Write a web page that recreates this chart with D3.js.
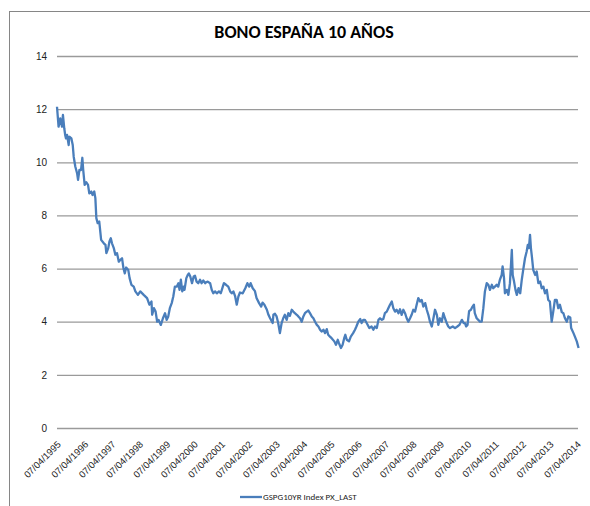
<!DOCTYPE html>
<html>
<head>
<meta charset="utf-8">
<script src="https://cdn.jsdelivr.net/npm/d3@7"></script>
<style>
  body { margin: 0; background: #fff; }
  svg { display: block; font-family: Carlito, Calibri, Lato, sans-serif; }
</style>
</head>
<body>
<svg></svg>
<script>
// Bono España 10 años (GSPG10YR)

let title = "BONO ESPAÑA 10 AÑOS";
let seriesName = "GSPG10YR Index PX_LAST";

let yTicks = [0, 2, 4, 6, 8, 10, 12, 14];
let xTickLabels = ["07/04/1995","07/04/1996","07/04/1997","07/04/1998","07/04/1999",
  "07/04/2000","07/04/2001","07/04/2002","07/04/2003","07/04/2004","07/04/2005",
  "07/04/2006","07/04/2007","07/04/2008","07/04/2009","07/04/2010","07/04/2011",
  "07/04/2012","07/04/2013","07/04/2014"];

let dates = [
  "1995-04-07","1995-04-28","1995-05-20","1995-06-13","1995-06-25","1995-07-13","1995-07-25","1995-08-05",
  "1995-08-19","1995-09-10","1995-09-19","1995-10-16","1995-11-03","1995-11-16","1995-12-07","1995-12-31",
  "1996-01-13","1996-01-31","1996-02-22","1996-03-10","1996-03-22","1996-04-10","1996-05-01","1996-05-25",
  "1996-06-11","1996-07-07","1996-07-25","1996-08-16","1996-08-31","1996-09-13","1996-10-01","1996-10-22",
  "1996-11-16","1996-12-22","1997-01-13","1997-01-25","1997-02-19","1997-03-07","1997-03-25","1997-04-10",
  "1997-05-04","1997-05-25","1997-06-16","1997-07-10","1997-07-31","1997-08-22","1997-09-10","1997-09-28",
  "1997-10-16","1997-11-13","1997-12-01","1997-12-25","1998-01-25","1998-02-16","1998-03-22","1998-04-22",
  "1998-06-07","1998-07-22","1998-08-22","1998-09-19","1998-09-28","1998-10-22","1998-11-13","1998-12-04",
  "1998-12-22","1999-01-22","1999-02-19","1999-03-19","1999-04-10","1999-05-01","1999-05-22","1999-06-16",
  "1999-07-07","1999-07-28","1999-08-22","1999-09-13","1999-09-28","1999-10-16","1999-11-04","1999-11-22",
  "1999-12-04","1999-12-28","2000-01-16","2000-01-31","2000-02-19","2000-03-13","2000-04-04","2000-04-22",
  "2000-05-13","2000-06-04","2000-06-28","2000-07-19","2000-08-10","2000-09-04","2000-10-04","2000-11-10",
  "2000-12-01","2000-12-22","2001-01-16","2001-02-07","2001-03-07","2001-04-01","2001-04-28","2001-05-13",
  "2001-06-10","2001-07-10","2001-08-04","2001-08-25","2001-09-16","2001-10-10","2001-10-31","2001-11-22",
  "2001-12-13","2002-01-19","2002-02-22","2002-03-22","2002-04-16","2002-05-04","2002-06-01","2002-07-01",
  "2002-07-22","2002-08-25","2002-09-22","2002-10-10","2002-11-04","2002-12-07","2002-12-28","2003-01-19",
  "2003-02-22","2003-03-04","2003-03-25","2003-04-16","2003-05-07","2003-05-30","2003-06-22","2003-07-13",
  "2003-08-04","2003-08-28","2003-09-19","2003-10-10","2003-11-04","2003-11-25","2003-12-16","2004-01-10",
  "2004-01-31","2004-02-22","2004-03-16","2004-04-07","2004-04-28","2004-05-22","2004-06-13","2004-07-04",
  "2004-07-28","2004-08-19","2004-09-10","2004-10-04","2004-10-25","2004-11-16","2004-12-07","2004-12-31",
  "2005-01-22","2005-02-13","2005-03-04","2005-03-28","2005-04-19","2005-05-25","2005-06-16","2005-07-10",
  "2005-07-25","2005-08-22","2005-09-13","2005-10-04","2005-10-19","2005-11-07","2005-12-07","2005-12-31",
  "2006-01-31","2006-02-25","2006-03-16","2006-04-10","2006-05-07","2006-05-25","2006-06-16","2006-07-07",
  "2006-07-31","2006-09-04","2006-10-04","2006-10-28","2006-11-19","2006-12-13","2007-01-04","2007-01-25",
  "2007-02-19","2007-03-10","2007-03-31","2007-04-25","2007-05-16","2007-06-07","2007-07-01","2007-07-22",
  "2007-08-13","2007-09-04","2007-09-28","2007-10-19","2007-11-10","2007-12-02","2007-12-25","2008-01-16",
  "2008-02-07","2008-03-01","2008-03-22","2008-04-13","2008-05-07","2008-05-28","2008-06-19","2008-07-13",
  "2008-08-04","2008-08-25","2008-09-19","2008-10-10","2008-10-31","2008-11-22","2008-12-16","2009-01-07",
  "2009-01-28","2009-02-22","2009-03-13","2009-04-04","2009-04-28","2009-05-19","2009-06-10","2009-07-03",
  "2009-07-24","2009-08-16","2009-09-22","2009-10-22","2009-11-22","2009-12-19","2010-01-22","2010-02-13",
  "2010-03-04","2010-03-19","2010-04-07","2010-04-28","2010-05-22","2010-06-13","2010-07-01","2010-07-13",
  "2010-08-07","2010-08-28","2010-09-19","2010-10-13","2010-11-04","2010-11-25","2010-12-19","2011-01-10",
  "2011-01-31","2011-02-25","2011-03-16","2011-04-07","2011-05-01","2011-05-22","2011-06-13","2011-07-07",
  "2011-07-19","2011-08-07","2011-08-19","2011-09-13","2011-10-04","2011-10-25","2011-11-19","2011-12-01",
  "2011-12-19","2012-01-07","2012-01-25","2012-02-16","2012-03-10","2012-03-31","2012-04-19","2012-05-13",
  "2012-06-04","2012-06-19","2012-07-04","2012-07-19","2012-07-31","2012-08-13","2012-08-31","2012-09-25",
  "2012-10-16","2012-11-07","2012-12-01","2012-12-22","2013-01-13","2013-02-04","2013-02-28","2013-03-19",
  "2013-04-10","2013-05-04","2013-05-25","2013-06-16","2013-07-10","2013-07-31","2013-08-22","2013-09-16",
  "2013-10-07","2013-10-28","2013-11-22","2013-12-13","2014-01-07","2014-01-19","2014-02-19","2014-03-10",
  "2014-04-04","2014-04-28"
];

let yields = [
  12.09,11.34,11.65,11.34,11.78,11.28,11.03,10.90,
  11.03,10.65,10.96,10.90,10.65,10.21,9.84,9.59,
  9.34,9.71,9.71,10.17,9.71,9.15,9.25,9.15,
  8.83,8.90,8.77,8.90,8.65,7.90,7.71,7.77,
  7.08,6.95,6.89,6.58,6.77,7.02,7.14,6.95,
  6.77,6.52,6.58,6.26,6.33,6.39,6.01,5.82,
  6.04,5.95,5.64,5.39,5.32,5.14,5.01,5.14,
  5.01,4.89,4.64,4.76,4.26,4.51,4.38,4.00,
  4.07,3.88,4.13,4.32,4.07,4.20,4.51,4.70,
  4.95,5.32,5.32,5.45,5.20,5.58,5.14,5.32,
  5.20,5.64,5.76,5.82,5.70,5.45,5.70,5.73,
  5.51,5.45,5.58,5.45,5.55,5.45,5.51,5.45,
  5.20,5.07,5.14,5.07,5.14,5.07,5.32,5.45,
  5.39,5.32,5.14,5.07,5.14,4.95,4.64,4.95,
  5.10,5.07,5.26,5.45,5.32,5.45,5.26,5.15,
  4.89,4.70,4.57,4.72,4.64,4.45,4.26,4.13,
  3.95,4.26,4.30,4.20,3.95,3.57,3.95,4.13,
  4.26,4.07,4.32,4.22,4.45,4.38,4.32,4.26,
  4.20,4.13,4.00,4.20,4.32,4.38,4.42,4.32,
  4.20,4.13,4.00,3.88,3.82,3.70,3.63,3.70,
  3.57,3.72,3.51,3.44,3.38,3.26,3.13,3.32,
  3.20,3.01,3.13,3.38,3.51,3.32,3.26,3.44,
  3.57,3.70,3.82,4.00,4.10,3.95,4.07,4.07,
  3.95,3.76,3.82,3.70,3.82,3.76,4.07,4.13,
  4.07,4.10,4.32,4.38,4.51,4.64,4.76,4.51,
  4.38,4.45,4.32,4.47,4.26,4.45,4.32,4.13,
  4.00,4.13,4.26,4.45,4.38,4.64,4.89,4.76,
  4.82,4.57,4.70,4.45,4.26,4.00,3.82,4.13,
  4.45,4.26,3.88,4.13,4.00,4.32,4.13,3.95,
  3.82,3.76,3.82,3.76,3.82,3.88,4.07,3.95,
  3.95,3.82,3.88,4.40,4.45,4.57,4.64,4.32,
  4.13,4.07,4.00,4.00,4.51,5.14,5.45,5.39,
  5.20,5.39,5.26,5.32,5.39,5.32,5.58,5.76,
  6.08,5.64,5.07,5.20,5.01,5.45,6.70,5.76,
  5.51,5.20,5.01,5.26,5.07,5.58,5.95,6.39,
  6.64,6.89,6.77,7.27,6.77,6.45,5.95,5.76,
  5.89,5.45,5.51,5.26,5.32,5.07,5.20,4.82,
  4.76,4.00,4.38,4.82,4.82,4.51,4.64,4.36,
  4.32,4.13,4.00,4.20,4.16,3.76,3.57,3.44,
  3.26,3.01
];

let width = 590;
let height = 506;

let plotLeft = 57;
let plotRight = 578;
let plotTop = 56;
let plotBottom = 428;

let parseDate = d3.timeParse("%Y-%m-%d");
let parseTick = d3.timeParse("%d/%m/%Y");

let svg = d3.select("svg")
            .attr("width", width)
            .attr("height", height);

// chart frame (cut by the window on the right and bottom)
svg.append("rect")
   .attr("x", 9.5)
   .attr("y", 11.5)
   .attr("width", width + 20)
   .attr("height", height + 20)
   .attr("fill", "#fff")
   .attr("stroke", "#868686")
   .attr("stroke-width", 1);

let xScale = d3.scaleTime()
               .domain([parseTick(xTickLabels[0]), parseTick(xTickLabels[xTickLabels.length - 1])])
               .range([plotLeft, 577]);

let yScale = d3.scaleLinear()
               .domain([0, 14])
               .range([plotBottom, plotTop]);

// y axis: gridlines + labels
let yAxis = d3.axisLeft(yScale)
              .tickValues(yTicks)
              .tickSize(-(plotRight - plotLeft))
              .tickPadding(10)
              .tickFormat(d3.format("d"));

let yG = svg.append("g")
            .attr("transform", "translate(" + plotLeft + ",0)")
            .call(yAxis);
yG.select(".domain").remove();
yG.selectAll(".tick line")
  .attr("stroke", "#9a9a9a")
  .attr("stroke-width", 1.3);
yG.selectAll(".tick text")
  .attr("fill", "#222")
  .style("font-size", "10px");

// x axis: rotated date labels, no tick marks
let xAxis = d3.axisBottom(xScale)
              .tickValues(xTickLabels.map(parseTick))
              .tickSize(0)
              .tickFormat((d, i) => xTickLabels[i]);

let xG = svg.append("g")
            .attr("transform", "translate(0," + plotBottom + ")")
            .call(xAxis);
xG.select(".domain").remove();
xG.selectAll(".tick text")
  .attr("fill", "#222")
  .style("font-size", "9.5px")
  .attr("text-anchor", "end")
  .attr("dy", 0)
  .attr("y", 0)
  .attr("transform", "translate(4,17) rotate(-45)");

// the series
let values = dates.map((d, i) => ({date: parseDate(d), value: yields[i]}));

let line = d3.line()
             .x(d => xScale(d.date))
             .y(d => yScale(d.value));

svg.append("path")
   .datum(values)
   .attr("fill", "none")
   .attr("stroke", "#4a7ebb")
   .attr("stroke-width", 2.3)
   .attr("stroke-linejoin", "round")
   .attr("d", line);

// title
svg.append("text")
   .attr("x", 304)
   .attr("y", 38)
   .attr("text-anchor", "middle")
   .style("font-size", "18px")
   .style("font-weight", "bold")
   .attr("fill", "#000")
   .text(title);

// legend
svg.append("line")
   .attr("x1", 240)
   .attr("x2", 262)
   .attr("y1", 497)
   .attr("y2", 497)
   .attr("stroke", "#4a7ebb")
   .attr("stroke-width", 2.3);

svg.append("text")
   .attr("x", 263)
   .attr("y", 500)
   .style("font-size", "9px")
   .attr("fill", "#222")
   .text(seriesName);
</script>
</body>
</html>
